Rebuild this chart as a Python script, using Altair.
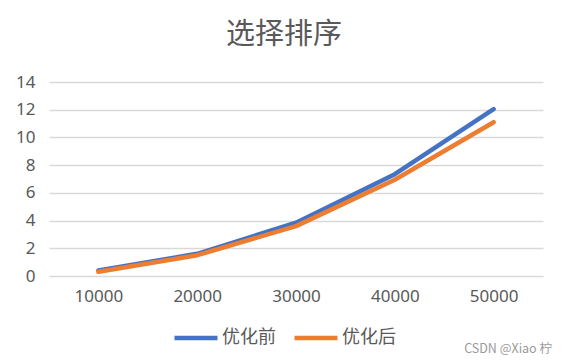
import altair as alt
import pandas as pd

sizes = ["10000", "20000", "30000", "40000", "50000"]
before = [0.4, 1.6, 3.85, 7.35, 12.05]
after = [0.3, 1.5, 3.6, 6.95, 11.1]
series_names = ["优化前", "优化后"]
colors = ["#4472C4", "#ED7D31"]

rows = []
for s, v in zip(sizes, before):
    rows.append({"n": s, "t": v, "series": series_names[0]})
for s, v in zip(sizes, after):
    rows.append({"n": s, "t": v, "series": series_names[1]})
df = pd.DataFrame(rows)

num_font = "Noto Sans"
cjk_font = "Noto Sans CJK SC"
txt = "#595959"

lines = alt.Chart(df).mark_line(strokeWidth=4.5, strokeCap="round", strokeJoin="round").encode(
    x=alt.X("n:O", sort=sizes, scale=alt.Scale(type="point", padding=0.5),
            axis=alt.Axis(title=None, labelAngle=0, tickSize=0, domain=False, grid=False,
                          labelPadding=12, labelFontSize=17, labelColor=txt, labelFont=num_font)),
    y=alt.Y("t:Q", scale=alt.Scale(domain=[0, 14], nice=False),
            axis=alt.Axis(title=None, values=[0, 2, 4, 6, 8, 10, 12, 14], tickSize=0, domain=False,
                          gridColor="#D9D9D9", gridWidth=1.3, labelPadding=14, labelFontSize=17,
                          labelColor=txt, labelFont=num_font)),
    color=alt.Color("series:N", scale=alt.Scale(domain=series_names, range=colors),
                    legend=alt.Legend(title=None, orient="none", direction="horizontal",
                                      legendX=123, legendY=232, symbolType="stroke",
                                      symbolStrokeWidth=4.5, symbolSize=1849,
                                      labelFontSize=18, labelFont=cjk_font, labelColor=txt,
                                      labelOffset=2, columnPadding=9)),
    order=alt.Order("series:N", sort="descending"),
)

mark_df = pd.DataFrame({"label": ["CSDN @Xiao 柠"]})
watermark = alt.Chart(mark_df).mark_text(align="right", baseline="middle", fontSize=12.5,
                                         font=cjk_font, color="#9A9A9A").encode(
    x=alt.value(503), y=alt.value(267), text="label:N")

chart = alt.layer(lines, watermark).properties(
    width=494, height=194,
    padding={"left": 41, "top": 74, "right": 17, "bottom": 86},
    autosize=alt.AutoSizeParams(type="none"),
    title=alt.TitleParams("选择排序", fontSize=29, font=cjk_font, color=txt, fontWeight="normal",
                          anchor="middle", dx=-12, offset=23),
    background="white",
).configure_view(stroke=None)

chart.save("out.html", embed_options={"renderer": "svg", "actions": False})
